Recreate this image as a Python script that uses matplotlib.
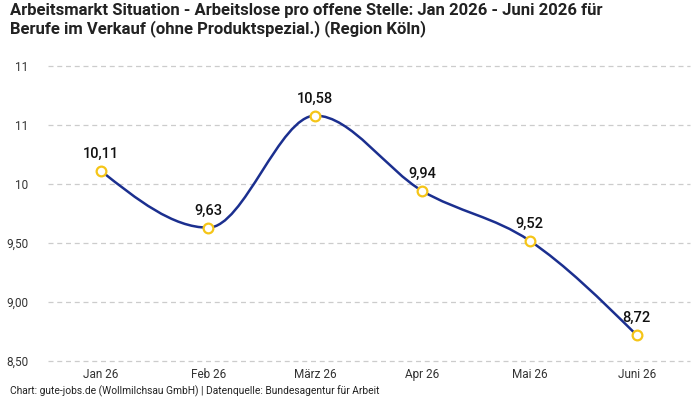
import matplotlib.pyplot as plt
from matplotlib.path import Path
from matplotlib.patches import PathPatch
import numpy as np

plt.rcParams['font.family'] = ['Roboto', 'DejaVu Sans']

months = ["Jan 26", "Feb 26", "März 26", "Apr 26", "Mai 26", "Juni 26"]
values = [10.11, 9.63, 10.58, 9.94, 9.52, 8.72]
value_labels = ["10,11", "9,63", "10,58", "9,94", "9,52", "8,72"]
y_ticks = [8.5, 9.0, 9.5, 10.0, 10.5, 11.0]
y_tick_labels = ["8,50", "9,00", "9,50", "10", "11", "11"]

title = ("Arbeitsmarkt Situation - Arbeitslose pro offene Stelle: Jan 2026 - Juni 2026 für\n"
         "Berufe im Verkauf (ohne Produktspezial.) (Region Köln)")
footer = "Chart: gute-jobs.de (Wollmilchsau GmbH) | Datenquelle: Bundesagentur für Arbeit"

line_col = "#1b2f8f"
marker_col = "#f5c518"


def monotone_path(x, y):
    # monotone cubic like d3.curveMonotoneX, as bezier segments
    x = np.asarray(x, float)
    y = np.asarray(y, float)
    n = len(x)
    h = np.diff(x)
    s = np.diff(y) / h
    t = np.zeros(n)
    for i in range(1, n - 1):
        p = (s[i - 1] * h[i] + s[i] * h[i - 1]) / (h[i - 1] + h[i])
        t[i] = (np.sign(s[i - 1]) + np.sign(s[i])) * min(abs(s[i - 1]), abs(s[i]), 0.5 * abs(p))
    t[0] = (3 * s[0] - t[1]) / 2
    t[-1] = (3 * s[-1] - t[-2]) / 2
    verts = [(x[0], y[0])]
    codes = [Path.MOVETO]
    for i in range(n - 1):
        dx = h[i] / 3
        verts += [(x[i] + dx, y[i] + dx * t[i]), (x[i + 1] - dx, y[i + 1] - dx * t[i + 1]), (x[i + 1], y[i + 1])]
        codes += [Path.CURVE4] * 3
    return Path(verts, codes)


fig = plt.figure(figsize=(7, 4), dpi=100)
ax = fig.add_axes([0.068, 0.0975, 0.918, 0.7375])

xs = np.arange(len(months))
ax.add_patch(PathPatch(monotone_path(xs, values), facecolor="none", edgecolor=line_col, lw=1.8, zorder=3))
ax.plot(xs, values, linestyle="none", marker="o", ms=7, mfc="white", mec=marker_col, mew=1.6, zorder=4)

for xi, v, lab in zip(xs, values, value_labels):
    ax.annotate(lab, (xi, v), xytext=(0, 7), textcoords="offset points", ha="center", va="bottom",
                fontsize=10.5, fontweight="medium", color="#111111", zorder=5)

ax.set_xlim(-0.5, 5.5)
ax.set_ylim(8.5, 11.0)
ax.set_xticks(xs)
ax.set_xticklabels(months)
ax.set_yticks(y_ticks)
ax.set_yticklabels(y_tick_labels)
ax.tick_params(axis="both", length=0, labelsize=8.5, colors="#333333")
ax.tick_params(axis="x", pad=5)
ax.tick_params(axis="y", pad=14)
ax.grid(axis="y", linestyle=(0, (4, 3)), color="#cccccc", lw=0.9)
for gl in ax.get_ygridlines():
    gl.set_clip_on(False)
for sp in ax.spines.values():
    sp.set_visible(False)

fig.text(0.014, 0.993, title, ha="left", va="top", fontsize=12, fontweight="bold",
         color="#222222", linespacing=1.2)
fig.text(0.014, 0.008, footer, ha="left", va="bottom", fontsize=7.4, color="#222222")

fig.savefig("out.png", dpi=100)
